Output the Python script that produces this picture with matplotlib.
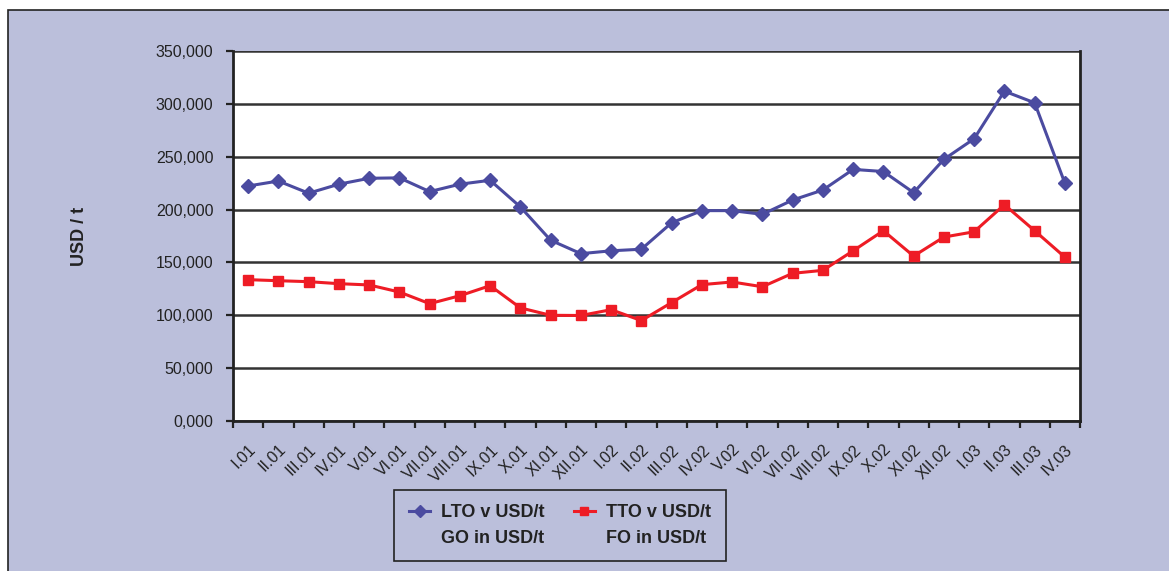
import numpy as np
import matplotlib
matplotlib.use("Agg")
import matplotlib.pyplot as plt
from matplotlib.patches import Rectangle
from matplotlib.lines import Line2D

# mesiace (rimske cislice) a ceny v USD/t
mesiace = ["I.01", "II.01", "III.01", "IV.01", "V.01", "VI.01", "VII.01", "VIII.01",
           "IX.01", "X.01", "XI.01", "XII.01", "I.02", "II.02", "III.02", "IV.02",
           "V.02", "VI.02", "VII.02", "VIII.02", "IX.02", "X.02", "XI.02", "XII.02",
           "I.03", "II.03", "III.03", "IV.03"]
lto = [222.3, 227.0, 215.5, 224.0, 229.6, 230.0, 217.0, 224.0,
       227.7, 202.5, 171.0, 158.3, 161.0, 162.5, 187.5, 199.0,
       199.0, 195.5, 209.0, 218.5, 238.0, 236.0, 216.0, 247.5,
       267.0, 312.0, 301.0, 225.0]
tto = [133.7, 132.7, 131.8, 129.9, 128.7, 122.0, 111.0, 118.5,
       128.0, 107.0, 100.0, 99.8, 105.3, 95.0, 112.0, 129.0,
       131.5, 127.0, 139.7, 142.5, 161.0, 180.0, 156.0, 174.0,
       179.0, 204.6, 180.0, 155.0]
y_ticky = [0, 50, 100, 150, 200, 250, 300, 350]

pozadie = "#BBBFDB"
modra = "#4B4BA0"
cervena = "#EE1C25"

plt.rcParams["font.family"] = ["Liberation Sans", "DejaVu Sans"]

fig = plt.figure(figsize=(11.69, 5.71), dpi=100)
fig.patch.set_facecolor("white")
ramik = Rectangle((8 / 1169, -0.05), 1.1, 1.05 + (571 - 10) / 571 - 1.0,
                  transform=fig.transFigure, facecolor=pozadie,
                  edgecolor="#222222", linewidth=1.2, zorder=-10)
fig.patches.append(ramik)

ax = fig.add_axes([233 / 1169, 1 - 421 / 571, (1080 - 233) / 1169, (421 - 51) / 571])
ax.set_zorder(1)
ax.set_facecolor("white")

x = np.arange(len(mesiace))
ax.plot(x, lto, color=modra, lw=2.2, marker="D", ms=7, zorder=3)
ax.plot(x, tto, color=cervena, lw=2.2, marker="s", ms=7, zorder=3)

ax.set_xlim(-0.5, len(mesiace) - 0.5)
ax.set_ylim(0, 350)
ax.set_yticks(y_ticky)
ax.set_yticklabels([f"{v:.3f}".replace(".", ",") for v in y_ticky], fontsize=11.5, color="#222222")
ax.yaxis.grid(True, color="#333333", lw=1.8)
ax.set_axisbelow(True)

# ticky na hraniciach kategorii, popisky v strede
ax.set_xticks(np.arange(-0.5, len(mesiace)), labels=[])
ax.set_xticks(x, minor=True)
ax.set_xticklabels(mesiace, minor=True, rotation=45, ha="right", rotation_mode="anchor",
                   fontsize=11.5, color="#222222")
ax.tick_params(axis="x", which="major", length=5, width=1.6, color="#222222")
ax.tick_params(axis="x", which="minor", length=0, pad=15)
ax.tick_params(axis="y", length=5, width=1.6, color="#222222", pad=9)

for s in ["left", "bottom", "right"]:
    ax.spines[s].set_color("#222222")
    ax.spines[s].set_linewidth(2)
ax.spines["top"].set_visible(False)

ax.set_ylabel("USD / t", fontsize=13, fontweight="bold", color="#222222")
ax.yaxis.set_label_coords(-0.171, 0.5)

prazdna = Line2D([], [], color="none")
h_lto = Line2D([], [], color=modra, lw=2.2, marker="D", ms=6)
h_tto = Line2D([], [], color=cervena, lw=2.2, marker="s", ms=6)
leg = fig.legend([h_lto, prazdna, h_tto, prazdna],
                 ["LTO v USD/t", "GO in USD/t", "TTO v USD/t", "FO in USD/t"],
                 ncol=2, loc="center", bbox_to_anchor=(0.479, 0.0797),
                 bbox_transform=fig.transFigure, fancybox=False,
                 facecolor=pozadie, edgecolor="#222222", framealpha=1,
                 prop={"weight": "bold", "size": 13}, handlelength=1.2,
                 handletextpad=0.6, columnspacing=1.6, labelspacing=0.5,
                 borderpad=0.8)
leg.get_frame().set_linewidth(1.2)
for t in leg.get_texts():
    t.set_color("#222222")

fig.savefig("out.png", dpi=100, facecolor=fig.get_facecolor())
